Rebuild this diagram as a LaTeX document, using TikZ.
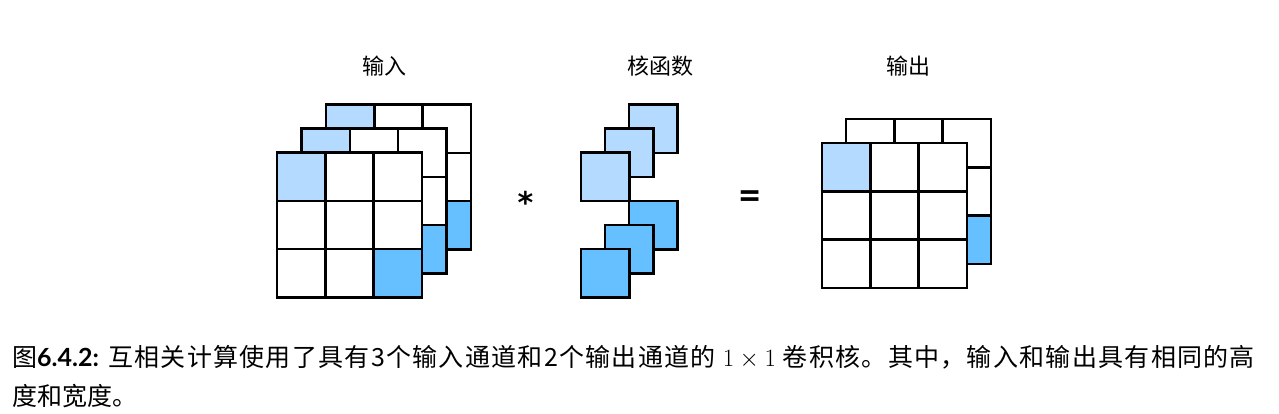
\documentclass[tikz,border=0pt]{standalone}
\usepackage{fontspec}
\newfontfamily\cjk{Noto Sans CJK SC}
\newfontfamily\cjkcap{Noto Sans CJK SC}[LetterSpace=5.2]
\newfontfamily\bsf{Lato}
\newfontfamily\dsf{DejaVu Sans}
\definecolor{lb}{HTML}{B4DAFF}
\definecolor{db}{HTML}{66BFFF}
\def\csz{48.3}
\tikzset{gl/.style={line width=2.5pt,draw=black,line join=miter},
  lbl/.style={anchor=base,inner sep=0pt,font=\cjk\fontsize{22}{26}\selectfont},
  captext/.style={anchor=base west,inner sep=0pt,font=\cjk\fontsize{25}{30}\selectfont}}
\newcommand{\mylayer}[4]{%
 \begin{scope}[shift={(#1,#2)}]
  \fill[white] (0,0) rectangle (3*\csz,3*\csz);
  \fill[#3] (0,0) rectangle (\csz,\csz);
  \fill[#4] (2*\csz,2*\csz) rectangle (3*\csz,3*\csz);
  \foreach \i in {1,2} {\draw[gl] (\i*\csz,0) -- (\i*\csz,3*\csz);
    \draw[gl] (0,\i*\csz) -- (3*\csz,\i*\csz);}
  \draw[gl] (0,0) rectangle (3*\csz,3*\csz);
 \end{scope}}
\begin{document}
\begin{tikzpicture}[x=1pt,y=-1pt]
\useasboundingbox (0,0) rectangle (1279,413);
% input
\mylayer{326}{104.5}{lb}{db}
\mylayer{301.5}{128.5}{lb}{db}
\mylayer{277}{152.5}{lb}{db}
% kernel
\foreach \x/\y in {629/104.5,605/128.5,581/152.5} \draw[gl,fill=lb] (\x,\y) rectangle ++(\csz,\csz);
\foreach \x/\y in {629/201,605/225,581/249} \draw[gl,fill=db] (\x,\y) rectangle ++(\csz,\csz);
% output
\mylayer{846}{119}{white}{db}
\mylayer{822}{143}{lb}{white}
% operators
\node[font=\dsf\bfseries\fontsize{30}{34}\selectfont,inner sep=0pt,anchor=base] (star) at (525.5,213) {*};
\node[font=\bsf\bfseries\fontsize{40}{44}\selectfont,inner sep=0pt] (eq) at (750,200) {=};
% labels
\node[lbl] (lin) at (384,74) {输入};
\node[lbl] (lk) at (660.5,74) {核函数};
\node[lbl] (lout) at (908,74) {输出};
% caption
\node[captext,font=\cjkcap\fontsize{25}{30}\selectfont] (cap1) at (12,366) {图{\bsf\bfseries 6.4.2:} 互相关计算使用了具有3个输入通道和2个输出通道的 $1\times1$ 卷积核。其中，输入和输出具有相同的高};
\node[captext] (cap2) at (12,405) {度和宽度。};
\end{tikzpicture}
\end{document}
